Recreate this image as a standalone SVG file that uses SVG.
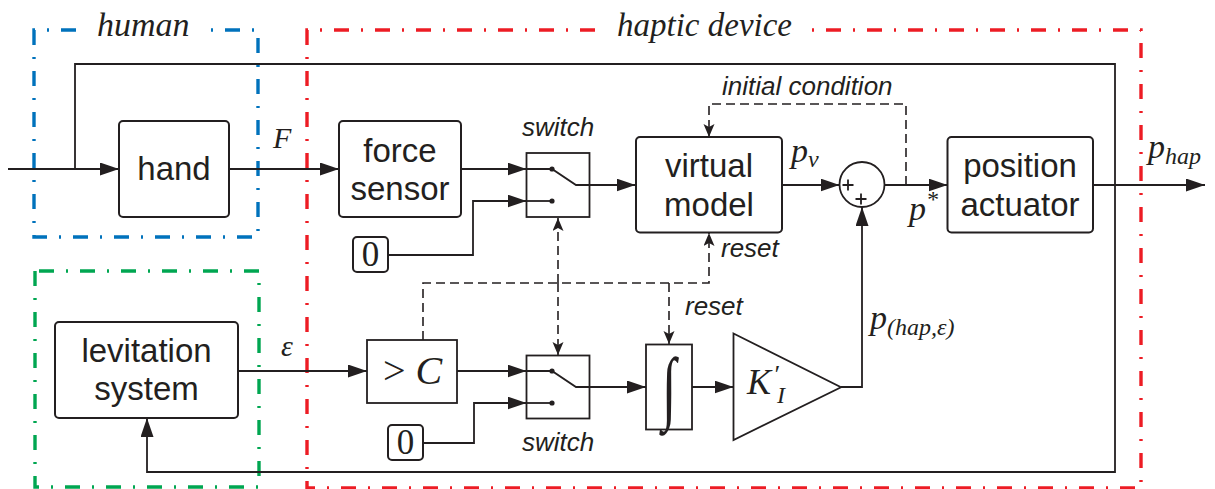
<svg xmlns="http://www.w3.org/2000/svg" width="1215" height="489" viewBox="0 0 1215 489">
<style>
.box{fill:#fff;stroke:#231f20;stroke-width:2}
.sq{fill:#fff;stroke:#231f20;stroke-width:1.8}
.ln{fill:none;stroke:#231f20;stroke-width:1.8}
.ar{marker-end:url(#ah)}
.dl{fill:none;stroke:#231f20;stroke-width:1.6;stroke-dasharray:9 5}
.da{marker-end:url(#dh)}
.lbl{font-family:"Liberation Sans",Arial,sans-serif;font-size:33px;fill:#231f20;text-anchor:middle}
.it{font-family:"Liberation Sans",Arial,sans-serif;font-size:26px;font-style:italic;fill:#231f20}
.m{font-family:"Liberation Serif","Times New Roman",serif;font-style:italic;fill:#231f20}
.rm{font-family:"Liberation Serif","Times New Roman",serif;fill:#231f20}
.grp{fill:none;stroke-width:3.4;stroke-dasharray:15 12 2 12}
.dot{fill:#231f20}
</style>
<defs>
<marker id="ah" markerUnits="userSpaceOnUse" markerWidth="20" markerHeight="14" refX="19" refY="6.5" orient="auto">
<path d="M0,0 L19,6.5 L0,13 z" fill="#231f20"/>
</marker>
<marker id="dh" markerUnits="userSpaceOnUse" markerWidth="14" markerHeight="12" refX="13" refY="5.5" orient="auto">
<path d="M0,0 L13,5.5 L0,11 L3,5.5 z" fill="#231f20"/>
</marker>
</defs>
<rect width="1215" height="489" fill="#fff"/>

<!-- group borders -->
<g id="human-group">
<path class="grp" stroke="#0072bc" d="M34,30 V237 H258 V30 Z"/>
<rect x="84" y="14" width="124" height="26" fill="#fff"/>
<text class="m" x="97" y="36" font-size="34">human</text>
</g>
<g id="levitation-group">
<path class="grp" stroke="#00a651" d="M35,271 V487 H259 V271 Z"/>
</g>
<g id="haptic-group">
<path class="grp" stroke="#ed1c24" d="M307,30 V488 H1141 V30 Z"/>
<rect x="606" y="14" width="196" height="26" fill="#fff"/>
<text class="m" x="617" y="36" font-size="33">haptic device</text>
</g>

<!-- connectors -->
<g id="connectors">
<path class="ln ar" d="M8,169 H119"/>
<path class="ln ar" d="M75,169 V64 H1115 V472 H147 V418"/>
<path class="ln ar" d="M229,169 H339"/>
<path class="ln ar" d="M461,169 H526.5"/>
<path class="ln ar" d="M388,255 H473 V201 H526.5"/>
<path class="ln ar" d="M590,185 H635.5"/>
<path class="ln ar" d="M782,185 H839.5"/>
<path class="ln ar" d="M884.5,185 H947.5"/>
<path class="ln ar" d="M1093,185 H1205"/>
<path class="ln ar" d="M238,371 H367"/>
<path class="ln ar" d="M457,371 H526.5"/>
<path class="ln ar" d="M423,443 H474 V403 H526.5"/>
<path class="ln ar" d="M589,387 H646"/>
<path class="ln ar" d="M692,387 H733.5"/>
<path class="ln ar" d="M841,387 H862 V207"/>
<path class="dl da" d="M906,185 V104 H709 V137"/>
<path class="dl da" d="M423,340 V283 H709 V233"/>
<path class="dl da" d="M558,283 V218"/>
<path class="dl da" d="M558,283 V355"/>
<path class="dl da" d="M669,283 V344"/>
</g>

<!-- nodes -->
<g id="hand">
<rect class="box" x="119" y="121" width="110" height="96" rx="4"/>
<text class="lbl" x="174" y="180">hand</text>
</g>
<g id="force-sensor">
<rect class="box" x="339" y="121" width="122" height="96" rx="4"/>
<text class="lbl" x="400" y="162">force</text>
<text class="lbl" x="400" y="200">sensor</text>
</g>
<g id="zero-1">
<rect class="box" x="353" y="237" width="35" height="35" rx="4"/>
<text class="rm" x="370.5" y="266" font-size="35" text-anchor="middle">0</text>
</g>
<g id="switch-1">
<rect class="sq" x="526.5" y="153" width="63" height="64"/>
<path class="ln" d="M526.5,169 H552 L576,185 H590"/>
<path class="ln" d="M526.5,201 H552"/>
<circle class="dot" cx="552" cy="169" r="2.6"/>
<circle class="dot" cx="552" cy="201" r="2.6"/>
<text class="it" x="522" y="136">switch</text>
</g>
<g id="virtual-model">
<rect class="box" x="636" y="137" width="146" height="95.5" rx="4"/>
<text class="lbl" x="709" y="177">virtual</text>
<text class="lbl" x="709" y="216">model</text>
</g>
<g id="sum">
<circle cx="862" cy="184.5" r="22.5" fill="#fff" stroke="#231f20" stroke-width="1.8"/>
<path class="ln" stroke-width="1.2" d="M842.5,185 H853.5 M848,179.5 V190.5 M855.5,199 H866.5 M861,193.5 V204.5"/>
</g>
<g id="position-actuator">
<rect class="box" x="947.5" y="137" width="145.5" height="95.5" rx="4"/>
<text class="lbl" x="1020" y="177">position</text>
<text class="lbl" x="1020" y="216">actuator</text>
</g>
<g id="levitation-system">
<rect class="box" x="55" y="322" width="183" height="96" rx="4"/>
<text class="lbl" x="146.5" y="362">levitation</text>
<text class="lbl" x="146.5" y="400">system</text>
</g>
<g id="threshold">
<rect class="sq" x="367" y="340" width="90" height="63"/>
<text class="rm" x="383" y="384" font-size="40">&gt; <tspan class="m">C</tspan></text>
</g>
<g id="zero-2">
<rect class="box" x="388" y="425" width="35" height="35" rx="4"/>
<text class="rm" x="405.5" y="454" font-size="35" text-anchor="middle">0</text>
</g>
<g id="switch-2">
<rect class="sq" x="526.5" y="355.5" width="63" height="63"/>
<path class="ln" d="M526.5,371 H552 L576,387 H589"/>
<path class="ln" d="M526.5,403 H552"/>
<circle class="dot" cx="552" cy="371" r="2.6"/>
<circle class="dot" cx="552" cy="403" r="2.6"/>
<text class="it" x="522" y="451">switch</text>
</g>
<g id="integrator">
<rect class="sq" x="646" y="344.5" width="46" height="85"/>
<text class="rm" x="0" y="0" font-size="52" text-anchor="middle" transform="translate(669,414) scale(1,1.55)">∫</text>
</g>
<g id="gain">
<path class="sq" d="M733.5,333.5 L841,387.3 L733.5,440 Z"/>
<text class="m" x="747" y="394" font-size="36">K</text>
<text class="m" x="773" y="383" font-size="26">′</text>
<text class="m" x="777" y="403" font-size="24">I</text>
</g>

<!-- labels -->
<g id="labels">
<text class="m" x="273" y="148" font-size="30">F</text>
<text class="m" x="281" y="356" font-size="30">ε</text>
<text class="m" x="791" y="162" font-size="34">p<tspan font-size="24" dy="5">v</tspan></text>
<text class="m" x="909" y="220" font-size="34">p<tspan class="rm" font-size="24" dy="-13">*</tspan></text>
<text class="m" x="1148" y="158" font-size="34">p<tspan font-size="24" dy="6">hap</tspan></text>
<text class="m" x="870" y="329" font-size="34">p<tspan font-size="24" dy="6"><tspan class="rm">(</tspan>hap<tspan class="rm">,</tspan>ε<tspan class="rm">)</tspan></tspan></text>
<text class="it" x="722" y="95">initial condition</text>
<text class="it" x="721" y="257">reset</text>
<text class="it" x="685" y="315">reset</text>
</g>
</svg>
